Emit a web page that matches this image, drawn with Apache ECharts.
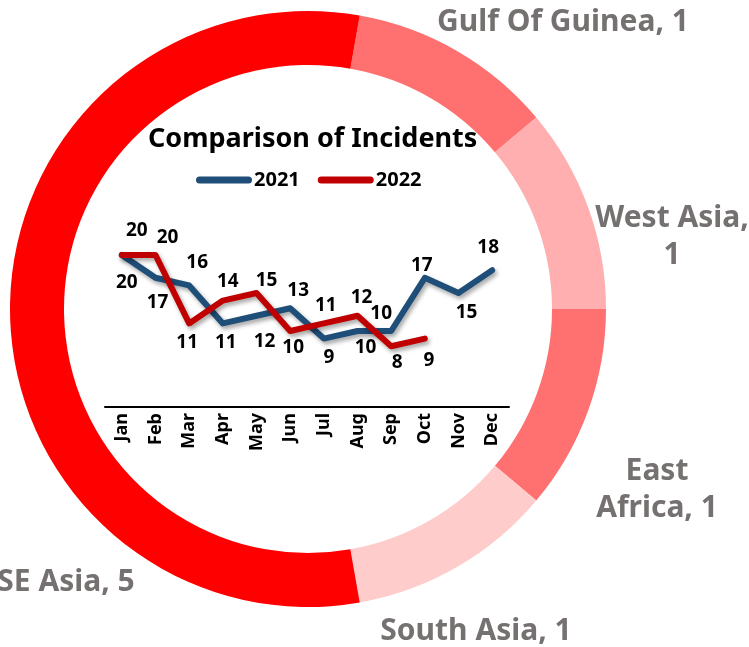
<!DOCTYPE html>
<html>
<head>
<meta charset="utf-8">
<script src="https://cdn.jsdelivr.net/npm/echarts@6/dist/echarts.min.js"></script>
<style>
  html, body { margin: 0; padding: 0; background: #fff; }
  #chart { width: 749px; height: 647px; }
</style>
</head>
<body>
<div id="chart"></div>
<script>
// regions (donut)
var regions = ["Gulf Of Guinea", "West Asia", "East Africa", "South Asia", "SE Asia"];
var regionCounts = [1, 1, 1, 1, 5];
var regionColors = ["#FF7171", "#FFAFAF", "#FF7171", "#FFCCCC", "#FF0000"];

// monthly incidents (inner line chart)
var months = ["Jan", "Feb", "Mar", "Apr", "May", "Jun", "Jul", "Aug", "Sep", "Oct", "Nov", "Dec"];
var y2021 = [20, 17, 16, 11, 12, 13, 9, 10, 10, 17, 15, 18];
var y2022 = [20, 20, 11, 14, 15, 10, 11, 12, 8, 9];

// label placement
var pos2021 = ["bottom", "bottom", "top", "bottom", "bottom", "top", "bottom", "bottom", "top", "top", "bottom", "top"];
var off2021 = [[5, 10], [2, 7], [8, -5], [3, 2], [8, 8], [8, 0], [5, 1], [8, -1], [-10, 0], [-3, 5], [8, 2], [-4, -5]];
var pos2022 = ["top", "top", "bottom", "top", "top", "bottom", "top", "top", "bottom", "bottom"];
var off2022 = [[15, -7], [12, 0], [-2, 2], [5, -1], [10, 5], [3, -1], [2, 0], [4, -1], [6, -1], [4, 4]];
var sliceLabelPos = [[563, 22], [672, 237], [657, 490], [476, 631], [66, 582]];

(function () {
    var myChart = echarts.init(document.getElementById("chart"));

    function lineData(vals, pos, off) {
        return vals.map(function (v, i) {
            return {
                value: v,
                label: { position: pos[i], offset: off[i] }
            };
        });
    }

    var lineShadow = {
        shadowColor: "rgba(0,0,0,0.35)",
        shadowBlur: 4,
        shadowOffsetX: 2,
        shadowOffsetY: 3
    };

    var capsule = "path://M3.5,0 L52.5,0 A3.5,3.5 0 0 1 52.5,7 L3.5,7 A3.5,3.5 0 0 1 3.5,0 Z";

    var option = {
        animation: false,
        textStyle: { fontFamily: "Noto Sans" },
        title: {
            text: "Comparison of Incidents",
            left: 143,
            top: 121,
            textStyle: { fontSize: 27, fontWeight: "bold", color: "#000", fontFamily: "Noto Sans" }
        },
        legend: {
            top: 165,
            left: 191,
            itemWidth: 56,
            itemHeight: 7,
            itemGap: 18,
            textStyle: { fontSize: 20, fontWeight: "bold", color: "#000", padding: [0, 0, 0, -3] },
            data: [
                { name: "2021", icon: capsule, itemStyle: { color: "#1F4E79" } },
                { name: "2022", icon: capsule, itemStyle: { color: "#C00000" } }
            ]
        },
        grid: {
            left: 105,
            right: 240,
            top: 217,
            bottom: 240
        },
        xAxis: {
            type: "category",
            data: months,
            axisTick: { show: false },
            axisLine: { lineStyle: { color: "#000", width: 2 } },
            axisLabel: {
                rotate: 90,
                margin: 6,
                color: "#000",
                fontSize: 18,
                fontWeight: "bold"
            }
        },
        yAxis: {
            type: "value",
            min: 0,
            max: 25,
            show: false
        },
        series: [
            {
                type: "pie",
                z: 1,
                silent: true,
                center: [308, 309],
                radius: [244, 298],
                startAngle: 80,
                clockwise: true,
                color: regionColors,
                label: {
                    show: true,
                    position: "outside",
                    overflow: "none",
                    color: "#767171",
                    fontSize: 30,
                    fontWeight: "bold",
                    lineHeight: 37,
                    align: "center",
                    formatter: function (p) {
                        if (p.dataIndex === 1) return p.name + ",\n" + p.value;
                        if (p.dataIndex === 2) return p.name.replace(" ", "\n") + ", " + p.value;
                        return p.name + ", " + p.value;
                    }
                },
                labelLine: { show: false },
                labelLayout: function (p) {
                    var xy = sliceLabelPos[p.dataIndex];
                    return { x: xy[0], y: xy[1], align: "center", verticalAlign: "middle" };
                },
                data: regions.map(function (r, i) {
                    return { name: r, value: regionCounts[i] };
                })
            },
            {
                name: "2021",
                type: "line",
                z: 3,
                symbol: "circle",
                symbolSize: 0.1,
                color: "#1F4E79",
                lineStyle: Object.assign({ width: 6, color: "#1F4E79", cap: "round", join: "round" }, lineShadow),
                label: { show: true, distance: 8, color: "#000", fontSize: 19, fontWeight: "bold" },
                data: lineData(y2021, pos2021, off2021)
            },
            {
                name: "2022",
                type: "line",
                z: 4,
                symbol: "circle",
                symbolSize: 0.1,
                color: "#C00000",
                lineStyle: Object.assign({ width: 6, color: "#C00000", cap: "round", join: "round" }, lineShadow),
                label: { show: true, distance: 8, color: "#000", fontSize: 19, fontWeight: "bold" },
                data: lineData(y2022, pos2022, off2022)
            }
        ]
    };

    myChart.setOption(option);
})();
</script>
</body>
</html>
